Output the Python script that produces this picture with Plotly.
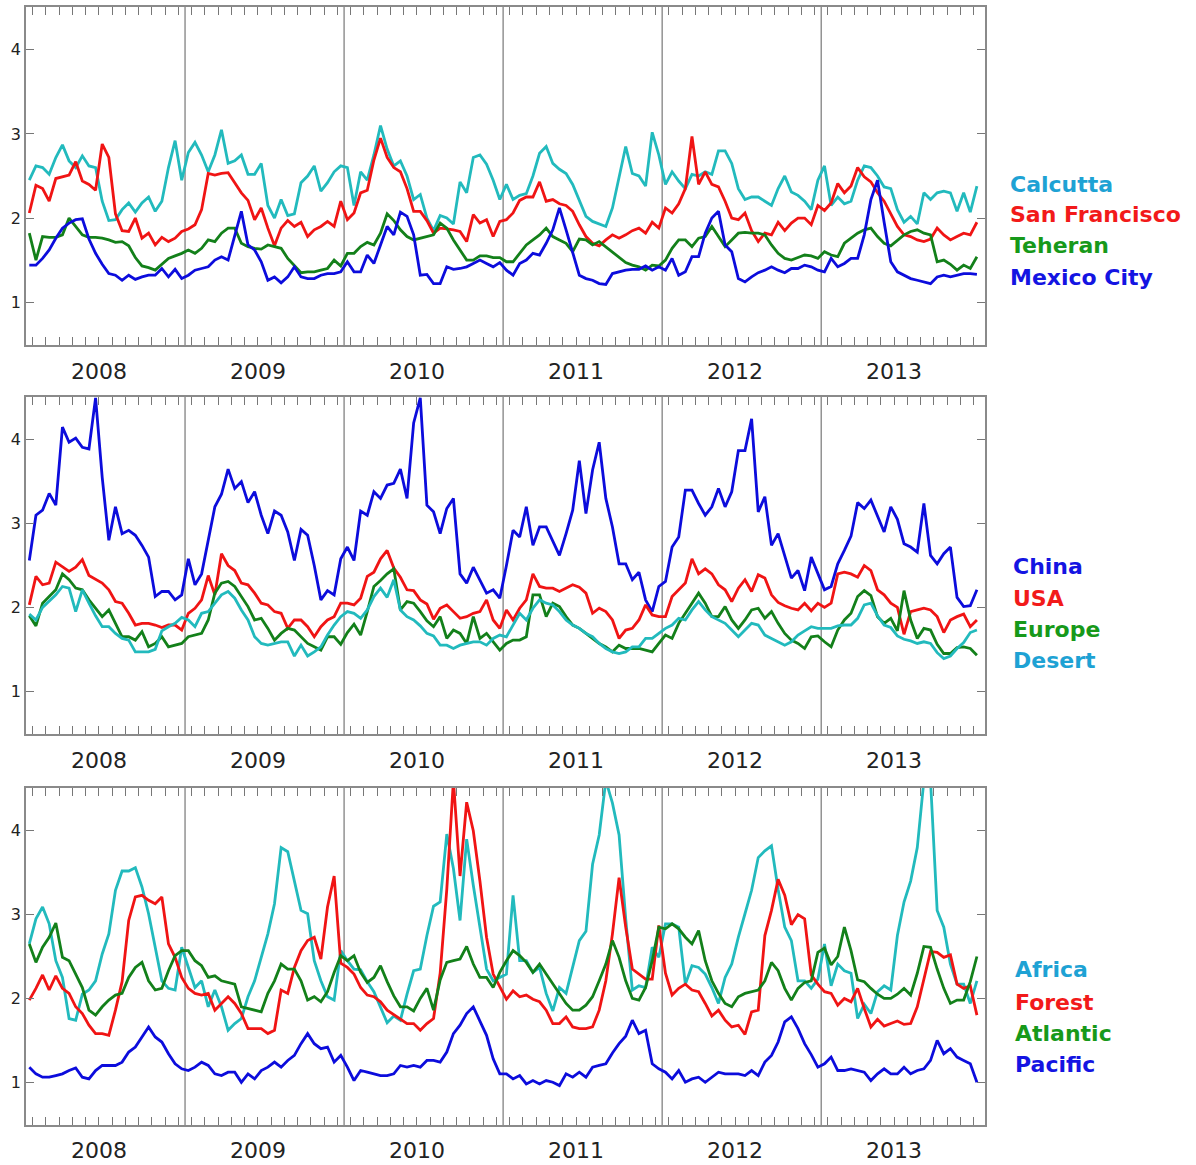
import numpy as np
import plotly.graph_objects as go

# ---------------------------------------------------------------------------
# Data: ratios sampled twice a month (24 values per year), 2008-2013
# ---------------------------------------------------------------------------
YEARS = [2008, 2009, 2010, 2011, 2012, 2013]
STEPS_PER_YEAR = 24
YEAR_LABELS = [str(y) for y in YEARS]
Y_TICKS = [1, 2, 3, 4]
Y_TICK_LABELS = ["1", "2", "3", "4"]

# --- cities ---
calcutta = [
    2.45, 2.62, 2.6, 2.52, 2.72, 2.87, 2.68, 2.6, 2.74, 2.62, 2.6, 2.2, 1.97, 1.98, 2.1, 2.18, 2.07, 2.18, 2.25, 2.08, 2.2, 2.6, 2.92, 2.45,
    2.78, 2.9, 2.75, 2.55, 2.75, 3.05, 2.65, 2.68, 2.75, 2.52, 2.52, 2.65, 2.15, 2.0, 2.22, 2.03, 2.05, 2.42, 2.5, 2.62, 2.32, 2.42, 2.55, 2.62,
    2.6, 2.15, 2.55, 2.45, 2.75, 3.1, 2.82, 2.62, 2.68, 2.5, 2.22, 2.28, 2.0, 1.85, 2.03, 2.0, 1.93, 2.43, 2.3, 2.72, 2.75, 2.64, 2.45, 2.22,
    2.4, 2.22, 2.27, 2.29, 2.5, 2.77, 2.85, 2.65, 2.58, 2.53, 2.4, 2.2, 2.02, 1.96, 1.93, 1.9, 2.12, 2.5, 2.85, 2.53, 2.5, 2.38, 3.02, 2.75,
    2.4, 2.55, 2.44, 2.35, 2.52, 2.5, 2.55, 2.52, 2.8, 2.8, 2.65, 2.35, 2.22, 2.25, 2.25, 2.2, 2.15, 2.35, 2.5, 2.31, 2.27, 2.2, 2.1, 2.45,
    2.62, 2.15, 2.25, 2.17, 2.2, 2.45, 2.62, 2.6, 2.5, 2.37, 2.35, 2.1, 1.95, 2.02, 1.93, 2.3, 2.22, 2.3, 2.32, 2.3, 2.08, 2.3, 2.07, 2.38,
]
san_francisco = [
    2.06, 2.39, 2.35, 2.2, 2.47, 2.49, 2.51, 2.67, 2.44, 2.4, 2.33, 2.88, 2.72, 2.05, 1.85, 1.84, 2.0, 1.76, 1.82, 1.68, 1.77, 1.72, 1.76, 1.84,
    1.87, 1.92, 2.1, 2.53, 2.51, 2.53, 2.54, 2.42, 2.3, 2.21, 1.98, 2.12, 1.88, 1.67, 1.88, 1.97, 1.9, 1.95, 1.78, 1.86, 1.9, 1.96, 1.9, 2.2,
    1.98, 2.06, 2.3, 2.33, 2.69, 2.95, 2.72, 2.6, 2.55, 2.35, 2.08, 2.08, 1.97, 1.82, 1.88, 1.87, 1.86, 1.84, 1.72, 2.04, 1.94, 1.98, 1.78, 1.96,
    1.98, 2.06, 2.21, 2.25, 2.25, 2.43, 2.2, 2.22, 2.17, 2.15, 2.08, 1.92, 1.78, 1.7, 1.67, 1.74, 1.8, 1.76, 1.8, 1.85, 1.88, 1.82, 1.95, 1.88,
    2.12, 2.06, 2.17, 2.35, 2.97, 2.4, 2.55, 2.4, 2.37, 2.2, 2.0, 1.98, 2.06, 1.85, 1.72, 1.82, 1.8, 1.95, 1.85, 1.94, 2.0, 2.0, 1.92, 2.15,
    2.09, 2.18, 2.41, 2.3, 2.38, 2.6, 2.49, 2.43, 2.3, 2.2, 2.05, 1.9, 1.8, 1.78, 1.74, 1.72, 1.75, 1.88, 1.8, 1.74, 1.78, 1.82, 1.8, 1.95,
]
teheran = [
    1.82, 1.5, 1.78, 1.77, 1.77, 1.8, 2.0, 1.9, 1.8, 1.77, 1.77, 1.76, 1.74, 1.71, 1.72, 1.67, 1.53, 1.43, 1.41, 1.38, 1.45, 1.52, 1.55, 1.58,
    1.62, 1.58, 1.64, 1.74, 1.72, 1.82, 1.88, 1.88, 1.7, 1.66, 1.64, 1.63, 1.68, 1.66, 1.64, 1.52, 1.43, 1.35, 1.36, 1.36, 1.38, 1.4, 1.5, 1.43,
    1.58, 1.58, 1.66, 1.71, 1.68, 1.82, 2.05, 1.97, 1.86, 1.78, 1.74, 1.76, 1.78, 1.8, 1.94, 1.88, 1.74, 1.62, 1.5, 1.5, 1.55, 1.55, 1.53, 1.53,
    1.48, 1.48, 1.58, 1.68, 1.74, 1.8, 1.88, 1.78, 1.74, 1.7, 1.6, 1.75, 1.74, 1.68, 1.72, 1.66, 1.6, 1.53, 1.47, 1.44, 1.42, 1.38, 1.44, 1.43,
    1.5, 1.64, 1.74, 1.74, 1.66, 1.76, 1.78, 1.9, 1.78, 1.66, 1.74, 1.82, 1.83, 1.82, 1.82, 1.8, 1.68, 1.58, 1.52, 1.5, 1.53, 1.56, 1.55, 1.52,
    1.6, 1.56, 1.54, 1.7, 1.76, 1.82, 1.86, 1.88, 1.78, 1.7, 1.67, 1.74, 1.8, 1.84, 1.86, 1.82, 1.8, 1.48, 1.5, 1.45, 1.38, 1.44, 1.4, 1.54,
]
mexico_city = [
    1.44, 1.44, 1.52, 1.62, 1.76, 1.88, 1.94, 1.98, 1.99, 1.75, 1.58, 1.45, 1.34, 1.32, 1.26, 1.32, 1.27, 1.3, 1.32, 1.32, 1.4, 1.3, 1.39, 1.28,
    1.32, 1.38, 1.4, 1.42, 1.5, 1.54, 1.5, 1.8, 2.08, 1.68, 1.62, 1.48, 1.26, 1.3, 1.23, 1.3, 1.42, 1.3, 1.28, 1.28, 1.32, 1.34, 1.34, 1.36,
    1.48, 1.36, 1.36, 1.56, 1.46, 1.68, 1.9, 1.8, 2.07, 2.02, 1.8, 1.32, 1.33, 1.22, 1.22, 1.42, 1.39, 1.4, 1.42, 1.46, 1.5, 1.46, 1.42, 1.47,
    1.38, 1.32, 1.46, 1.5, 1.58, 1.56, 1.7, 1.86, 2.12, 1.86, 1.6, 1.32, 1.28, 1.26, 1.22, 1.21, 1.34, 1.36, 1.38, 1.39, 1.39, 1.43, 1.38, 1.42,
    1.38, 1.52, 1.32, 1.36, 1.54, 1.54, 1.82, 2.0, 2.08, 1.68, 1.6, 1.28, 1.24, 1.3, 1.35, 1.38, 1.42, 1.38, 1.35, 1.4, 1.4, 1.44, 1.42, 1.38,
    1.36, 1.52, 1.42, 1.46, 1.52, 1.52, 1.8, 2.22, 2.45, 1.95, 1.48, 1.36, 1.32, 1.28, 1.26, 1.24, 1.22, 1.3, 1.32, 1.3, 1.32, 1.34, 1.34, 1.33,
]

# --- regions ---
china = [
    2.56, 3.1, 3.16, 3.36, 3.22, 4.15, 3.97, 4.02, 3.91, 3.89, 4.5, 3.55, 2.8, 3.2, 2.88, 2.92, 2.86, 2.74, 2.6, 2.13, 2.19, 2.19, 2.09, 2.15,
    2.58, 2.27, 2.4, 2.8, 3.2, 3.35, 3.65, 3.42, 3.5, 3.25, 3.38, 3.1, 2.88, 3.15, 3.1, 2.9, 2.56, 2.93, 2.86, 2.5, 2.09, 2.2, 2.15, 2.58,
    2.72, 2.56, 3.15, 3.1, 3.38, 3.3, 3.46, 3.48, 3.65, 3.3, 4.2, 4.5, 3.22, 3.14, 2.88, 3.18, 3.3, 2.4, 2.29, 2.48, 2.33, 2.17, 2.21, 2.11,
    2.5, 2.92, 2.84, 3.2, 2.74, 2.96, 2.96, 2.8, 2.62, 2.88, 3.16, 3.75, 3.12, 3.64, 3.97, 3.3, 2.96, 2.52, 2.52, 2.33, 2.42, 2.09, 1.95, 2.25,
    2.31, 2.72, 2.84, 3.4, 3.4, 3.24, 3.1, 3.2, 3.42, 3.2, 3.38, 3.87, 3.87, 4.25, 3.14, 3.32, 2.74, 2.88, 2.62, 2.35, 2.44, 2.2, 2.6, 2.4,
    2.21, 2.25, 2.52, 2.68, 2.85, 3.25, 3.18, 3.28, 3.1, 2.9, 3.2, 3.05, 2.76, 2.72, 2.66, 3.24, 2.62, 2.52, 2.64, 2.72, 2.12, 2.01, 2.02, 2.21,
]
usa = [
    2.03, 2.37, 2.27, 2.29, 2.54, 2.48, 2.43, 2.48, 2.57, 2.38, 2.34, 2.29, 2.21, 2.07, 2.05, 1.93, 1.79, 1.81, 1.81, 1.79, 1.76, 1.79, 1.79, 1.73,
    1.93, 1.99, 2.09, 2.38, 2.15, 2.64, 2.5, 2.44, 2.29, 2.27, 2.17, 2.05, 2.03, 1.95, 1.93, 1.75, 1.85, 1.85, 1.77, 1.65, 1.77, 1.85, 1.89, 2.05,
    2.05, 2.03, 2.11, 2.37, 2.42, 2.58, 2.68, 2.47, 2.36, 2.21, 2.2, 2.09, 2.04, 1.86, 1.99, 2.03, 1.95, 1.87, 1.89, 1.93, 1.95, 2.09, 1.85, 1.75,
    1.97, 1.85, 1.99, 2.09, 2.4, 2.25, 2.23, 2.23, 2.19, 2.23, 2.27, 2.24, 2.17, 1.93, 1.99, 1.95, 1.85, 1.63, 1.73, 1.75, 1.85, 2.03, 1.91, 1.89,
    1.89, 2.13, 2.21, 2.29, 2.58, 2.4, 2.46, 2.4, 2.27, 2.21, 2.07, 2.23, 2.33, 2.19, 2.39, 2.35, 2.15, 2.06, 2.02, 1.99, 1.97, 2.05, 1.96, 2.05,
    2.0, 2.05, 2.4, 2.42, 2.4, 2.36, 2.5, 2.44, 2.21, 2.15, 2.05, 2.0, 1.68, 1.95, 1.97, 1.99, 1.97, 1.89, 1.7, 1.85, 1.89, 1.92, 1.77, 1.85,
]
europe = [
    1.9, 1.78, 2.05, 2.13, 2.21, 2.4, 2.33, 2.23, 2.21, 2.09, 1.99, 1.89, 1.97, 1.81, 1.65, 1.65, 1.61, 1.71, 1.53, 1.57, 1.65, 1.53, 1.55, 1.57,
    1.65, 1.67, 1.69, 1.85, 2.17, 2.29, 2.31, 2.25, 2.13, 2.01, 1.85, 1.87, 1.75, 1.61, 1.69, 1.75, 1.73, 1.65, 1.57, 1.53, 1.49, 1.65, 1.65, 1.56,
    1.7, 1.8, 1.67, 1.95, 2.25, 2.32, 2.4, 2.46, 1.97, 2.07, 2.05, 1.95, 1.84, 1.77, 1.89, 1.63, 1.73, 1.69, 1.57, 1.89, 1.63, 1.69, 1.59, 1.49,
    1.57, 1.61, 1.61, 1.65, 2.15, 2.15, 1.89, 2.05, 2.01, 1.89, 1.79, 1.75, 1.69, 1.63, 1.57, 1.53, 1.47, 1.55, 1.51, 1.51, 1.51, 1.49, 1.47, 1.57,
    1.67, 1.63, 1.81, 1.93, 2.05, 2.17, 2.05, 1.89, 1.89, 2.01, 1.85, 1.75, 1.85, 1.97, 1.99, 1.87, 1.95, 1.81, 1.69, 1.61, 1.57, 1.51, 1.65, 1.66,
    1.59, 1.53, 1.73, 1.85, 1.93, 2.13, 2.2, 2.14, 1.89, 1.81, 1.87, 1.72, 2.2, 1.85, 1.63, 1.75, 1.73, 1.56, 1.45, 1.45, 1.52, 1.53, 1.51, 1.43,
]
desert = [
    1.92, 1.85, 2.0, 2.08, 2.15, 2.25, 2.23, 1.95, 2.21, 2.05, 1.9, 1.77, 1.77, 1.69, 1.63, 1.61, 1.47, 1.47, 1.47, 1.5, 1.72, 1.77, 1.81, 1.88,
    1.85, 1.77, 1.93, 1.95, 2.05, 2.15, 2.19, 2.11, 1.97, 1.85, 1.65, 1.57, 1.55, 1.57, 1.59, 1.59, 1.42, 1.55, 1.42, 1.47, 1.53, 1.67, 1.79, 1.89,
    1.95, 1.93, 1.87, 1.97, 2.13, 2.23, 2.12, 2.33, 1.97, 1.89, 1.85, 1.78, 1.69, 1.66, 1.55, 1.55, 1.51, 1.55, 1.57, 1.59, 1.59, 1.55, 1.63, 1.67,
    1.65, 1.79, 1.93, 1.85, 1.99, 2.09, 2.05, 2.03, 1.95, 1.85, 1.79, 1.75, 1.69, 1.65, 1.57, 1.51, 1.47, 1.45, 1.47, 1.53, 1.53, 1.63, 1.63, 1.69,
    1.75, 1.79, 1.87, 1.85, 1.97, 2.07, 1.97, 1.89, 1.85, 1.81, 1.73, 1.65, 1.73, 1.81, 1.79, 1.67, 1.63, 1.59, 1.55, 1.59, 1.67, 1.72, 1.77, 1.75,
    1.75, 1.75, 1.78, 1.79, 1.79, 1.87, 2.03, 2.05, 1.9, 1.79, 1.76, 1.66, 1.62, 1.6, 1.57, 1.59, 1.57, 1.46, 1.39, 1.42, 1.51, 1.58, 1.7, 1.73,
]

# --- surface types ---
africa = [
    2.65, 2.95, 3.09, 2.89, 2.45, 2.25, 1.76, 1.74, 2.05, 2.1, 2.21, 2.53, 2.77, 3.29, 3.52, 3.52, 3.56, 3.33, 3.01, 2.61, 2.21, 2.12, 2.1, 2.61,
    2.37, 2.13, 2.21, 1.9, 2.1, 1.9, 1.62, 1.7, 1.76, 2.02, 2.21, 2.49, 2.77, 3.13, 3.8, 3.75, 3.4, 3.05, 3.01, 2.45, 2.21, 2.02, 1.98, 2.57,
    2.45, 2.35, 2.34, 2.2, 2.08, 1.9, 1.71, 1.79, 1.74, 2.05, 2.33, 2.35, 2.75, 3.1, 3.15, 3.96, 3.55, 2.93, 3.9, 3.35, 2.85, 2.35, 2.21, 2.25,
    2.29, 3.23, 2.45, 2.45, 2.31, 2.37, 2.06, 1.85, 2.13, 2.06, 2.37, 2.69, 2.8, 3.6, 3.95, 4.6, 4.33, 3.95, 2.95, 2.1, 2.15, 2.13, 2.61, 2.49,
    2.89, 2.89, 2.85, 2.17, 2.39, 2.37, 2.29, 2.13, 1.94, 2.25, 2.41, 2.73, 3.01, 3.29, 3.68, 3.76, 3.82, 3.3, 2.85, 2.69, 2.21, 2.21, 2.12, 2.23,
    2.65, 2.15, 2.41, 2.33, 2.3, 1.76, 1.93, 1.82, 2.08, 2.15, 2.1, 2.75, 3.15, 3.4, 3.8, 4.6, 4.6, 3.05, 2.85, 2.41, 2.17, 2.17, 1.94, 2.21,
]
forest = [
    1.98, 2.12, 2.28, 2.1, 2.27, 2.12, 2.06, 1.9, 1.82, 1.68, 1.58, 1.58, 1.56, 1.86, 2.2, 2.93, 3.21, 3.23, 3.17, 3.13, 3.21, 2.65, 2.49, 2.25,
    2.12, 2.06, 2.04, 2.06, 1.86, 1.94, 2.02, 1.94, 1.82, 1.64, 1.64, 1.64, 1.58, 1.62, 2.1, 2.06, 2.37, 2.57, 2.69, 2.73, 2.47, 3.09, 3.46, 2.42,
    2.37, 2.29, 2.13, 2.04, 2.02, 1.96, 1.86, 1.81, 1.76, 1.7, 1.7, 1.62, 1.7, 1.76, 2.3, 3.3, 4.6, 3.46, 4.34, 4.0, 3.4, 2.73, 2.29, 2.13,
    1.99, 2.09, 2.02, 2.04, 1.99, 1.96, 1.86, 1.7, 1.7, 1.78, 1.66, 1.64, 1.64, 1.66, 1.86, 2.21, 2.77, 3.44, 2.85, 2.35, 2.29, 2.23, 2.23, 2.87,
    2.3, 2.04, 2.12, 2.17, 2.1, 2.08, 1.94, 1.79, 1.86, 1.74, 1.66, 1.68, 1.57, 1.84, 1.86, 2.75, 3.05, 3.42, 3.23, 2.88, 3.0, 2.95, 2.28, 2.17,
    2.08, 2.06, 1.92, 2.0, 1.96, 2.12, 1.88, 1.66, 1.75, 1.67, 1.7, 1.73, 1.69, 1.7, 1.9, 2.25, 2.56, 2.55, 2.49, 2.52, 2.17, 2.12, 2.15, 1.8,
]
atlantic = [
    2.65, 2.43, 2.61, 2.73, 2.9, 2.49, 2.45, 2.29, 2.13, 1.86, 1.8, 1.9, 1.98, 2.04, 2.06, 2.25, 2.37, 2.43, 2.21, 2.1, 2.12, 2.33, 2.51, 2.57,
    2.57, 2.45, 2.39, 2.25, 2.27, 2.21, 2.19, 2.17, 1.9, 1.88, 1.86, 1.84, 2.06, 2.21, 2.41, 2.35, 2.35, 2.21, 1.98, 2.02, 1.96, 2.08, 2.31, 2.51,
    2.45, 2.51, 2.31, 2.19, 2.25, 2.39, 2.2, 2.03, 1.9, 1.9, 1.85, 2.0, 2.12, 1.86, 2.22, 2.43, 2.45, 2.47, 2.62, 2.41, 2.25, 2.25, 2.13, 2.31,
    2.45, 2.57, 2.51, 2.43, 2.31, 2.41, 2.29, 2.17, 2.06, 1.94, 1.86, 1.86, 1.92, 2.02, 2.21, 2.41, 2.69, 2.49, 2.21, 2.0, 1.98, 2.13, 2.45, 2.85,
    2.83, 2.89, 2.83, 2.73, 2.65, 2.81, 2.45, 2.21, 2.06, 1.94, 1.9, 2.02, 2.06, 2.08, 2.1, 2.21, 2.43, 2.33, 2.12, 1.98, 2.12, 2.19, 2.21, 2.55,
    2.6, 2.4, 2.5, 2.85, 2.57, 2.22, 2.2, 2.12, 2.05, 2.0, 2.0, 2.05, 2.12, 2.04, 2.3, 2.62, 2.61, 2.35, 2.12, 1.94, 1.98, 1.98, 2.2, 2.5,
]
pacific = [
    1.18, 1.1, 1.06, 1.06, 1.08, 1.1, 1.14, 1.17, 1.06, 1.04, 1.14, 1.2, 1.2, 1.2, 1.24, 1.36, 1.42, 1.54, 1.66, 1.54, 1.48, 1.34, 1.22, 1.16,
    1.14, 1.18, 1.24, 1.2, 1.1, 1.08, 1.12, 1.12, 1.0, 1.1, 1.04, 1.14, 1.18, 1.24, 1.18, 1.26, 1.32, 1.46, 1.58, 1.46, 1.4, 1.42, 1.24, 1.32,
    1.18, 1.02, 1.14, 1.12, 1.1, 1.08, 1.08, 1.1, 1.2, 1.18, 1.2, 1.18, 1.26, 1.26, 1.24, 1.36, 1.58, 1.68, 1.82, 1.9, 1.73, 1.56, 1.28, 1.1,
    1.1, 1.04, 1.08, 0.98, 1.02, 0.98, 1.02, 1.0, 0.96, 1.1, 1.06, 1.12, 1.06, 1.18, 1.2, 1.22, 1.35, 1.46, 1.55, 1.74, 1.58, 1.62, 1.22, 1.16,
    1.12, 1.04, 1.14, 1.0, 1.04, 1.06, 1.0, 1.06, 1.12, 1.1, 1.1, 1.1, 1.08, 1.14, 1.08, 1.24, 1.32, 1.48, 1.72, 1.78, 1.64, 1.46, 1.33, 1.18,
    1.22, 1.3, 1.14, 1.14, 1.16, 1.14, 1.12, 1.02, 1.1, 1.16, 1.1, 1.1, 1.18, 1.1, 1.14, 1.16, 1.26, 1.5, 1.34, 1.4, 1.3, 1.26, 1.22, 1.0,
]

# ---------------------------------------------------------------------------
# Styling
# ---------------------------------------------------------------------------
LINE = {"cyan": "#22BABD", "red": "#F01414", "green": "#13801A", "blue": "#0C0CDC"}
TEXT = {"cyan": "#1EA2D4", "red": "#F21A1A", "green": "#17991A", "blue": "#1414E2"}

W, H = 1196, 1165
X0_PX, X1_PX = 26, 985
PANELS = [
    dict(top=7, bottom=345, year_y=371, legend_x=1008, legend_y=[184, 215, 246, 278],
         series=[("Calcutta", calcutta, "cyan"), ("San Francisco", san_francisco, "red"),
                 ("Teheran", teheran, "green"), ("Mexico City", mexico_city, "blue")]),
    dict(top=397, bottom=734, year_y=760, legend_x=1011, legend_y=[567, 598, 629, 660],
         series=[("China", china, "blue"), ("USA", usa, "red"),
                 ("Europe", europe, "green"), ("Desert", desert, "cyan")]),
    dict(top=788, bottom=1125, year_y=1150, legend_x=1013, legend_y=[970, 1002, 1033, 1064],
         series=[("Africa", africa, "cyan"), ("Forest", forest, "red"),
                 ("Atlantic", atlantic, "green"), ("Pacific", pacific, "blue")]),
]

X_RANGE = [2008.0, 2014.03]
Y_RANGE = [0.49, 4.51]

t = np.array([y + (i + 0.5) / STEPS_PER_YEAR for y in YEARS for i in range(STEPS_PER_YEAR)])
month_ticks = [y + (m + 0.5) / 12 for y in YEARS for m in range(12)]


def px_x(p):
    return p / W


def px_y(p):
    return 1 - p / H


fig = go.Figure()
layout = dict(
    width=W, height=H,
    margin=dict(l=0, r=0, t=0, b=0),
    paper_bgcolor="white", plot_bgcolor="white",
    showlegend=False,
    font=dict(family="DejaVu Sans, Verdana, sans-serif", color="#222222"),
)
shapes = []
annotations = []

for k, panel in enumerate(PANELS, start=1):
    xa = "x" if k == 1 else f"x{k}"
    ya = "y" if k == 1 else f"y{k}"
    for name, values, ckey in panel["series"]:
        fig.add_trace(go.Scatter(
            x=t, y=values, mode="lines", name=name,
            line=dict(color=LINE[ckey], width=2.8),
            xaxis=xa, yaxis=ya, hoverinfo="skip",
        ))

    common = dict(showgrid=False, zeroline=False, showline=True, linecolor="#8a8a8a",
                  linewidth=1.5, mirror="ticks", ticks="inside", ticklen=8,
                  tickcolor="#777777", tickwidth=1, automargin=False)
    layout["xaxis" if k == 1 else f"xaxis{k}"] = dict(
        domain=[px_x(X0_PX), px_x(X1_PX)], range=X_RANGE, anchor=ya,
        tickvals=month_ticks, showticklabels=False, **common)
    layout["yaxis" if k == 1 else f"yaxis{k}"] = dict(
        domain=[px_y(panel["bottom"]), px_y(panel["top"])], range=Y_RANGE, anchor=xa,
        tickvals=Y_TICKS, ticktext=Y_TICK_LABELS,
        tickfont=dict(size=16, color="#222222"), **common)

    # year separators
    for y in YEARS[1:]:
        shapes.append(dict(type="line", xref=xa, yref=f"{ya} domain", x0=y, x1=y, y0=0, y1=1,
                           line=dict(color="#777777", width=1.2), layer="below"))

    # year labels
    for y, lab in zip(YEARS, YEAR_LABELS):
        annotations.append(dict(x=y + 0.46, y=px_y(panel["year_y"]), xref=xa, yref="paper",
                                text=lab, showarrow=False, xanchor="center", yanchor="middle",
                                font=dict(size=22, color="#222222")))

    # series names
    for (name, _, ckey), ly in zip(panel["series"], panel["legend_y"]):
        annotations.append(dict(x=px_x(panel["legend_x"]), y=px_y(ly), xref="paper", yref="paper",
                                text=f"<b>{name}</b>", showarrow=False, xanchor="left",
                                yanchor="middle",
                                font=dict(size=22, color=TEXT[ckey],
                                          family="DejaVu Sans, Verdana, sans-serif")))

layout["shapes"] = shapes
layout["annotations"] = annotations
fig.update_layout(**layout)
fig.write_html("out.html")
